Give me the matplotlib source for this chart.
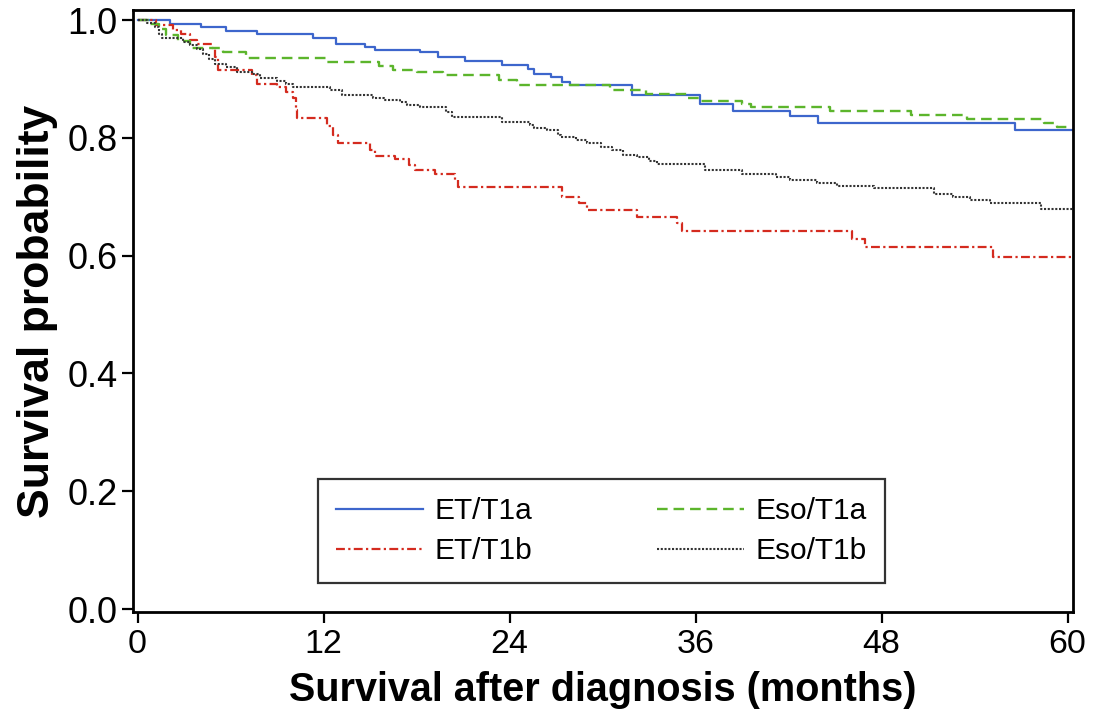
import matplotlib
matplotlib.use("Agg")
import matplotlib.pyplot as plt
from matplotlib import font_manager

# ---------------- data ----------------
et_t1a_time = [0, 2.1, 4.1, 5.7, 7.7, 11.3, 12.8, 14.7, 15.3, 18.2, 19.4, 21.1, 23.5,
               25.2, 25.6, 26.7, 27.4, 27.9, 31.9, 36.3, 38.4, 42.1, 43.9, 56.6, 60.3]
et_t1a_surv = [1.0, 0.993, 0.988, 0.982, 0.976, 0.969, 0.960, 0.955, 0.949, 0.945, 0.938,
               0.931, 0.924, 0.917, 0.909, 0.904, 0.895, 0.890, 0.873, 0.857, 0.846, 0.837,
               0.826, 0.814, 0.814]

eso_t1a_time = [0, 0.8, 1.4, 1.8, 2.6, 3.4, 5.5, 7.0, 12.2, 15.6, 16.5, 18.0, 19.7, 23.3,
                24.5, 30.5, 32.8, 35.5, 36.3, 39.0, 39.6, 44.7, 49.9, 53.5, 58.5, 59.3, 60.3]
eso_t1a_surv = [1.0, 0.993, 0.985, 0.975, 0.965, 0.953, 0.946, 0.935, 0.929, 0.922, 0.915,
                0.911, 0.906, 0.899, 0.890, 0.882, 0.874, 0.867, 0.862, 0.857, 0.852, 0.846,
                0.839, 0.832, 0.826, 0.819, 0.819]

et_t1b_time = [0, 1.2, 2.3, 2.8, 3.4, 3.8, 4.8, 5.0, 5.2, 7.4, 7.7, 9.0, 9.6, 10.0, 10.2,
               10.3, 12.2, 12.6, 12.9, 15.0, 15.3, 16.6, 17.5, 17.9, 19.2, 20.5, 20.7, 27.4,
               28.5, 29.0, 32.2, 34.8, 35.1, 46.1, 46.9, 55.2, 60.3]
et_t1b_surv = [1.0, 0.992, 0.983, 0.977, 0.966, 0.960, 0.952, 0.938, 0.915, 0.907, 0.892,
               0.886, 0.878, 0.867, 0.847, 0.833, 0.820, 0.805, 0.791, 0.779, 0.770, 0.764,
               0.754, 0.745, 0.738, 0.728, 0.717, 0.700, 0.689, 0.677, 0.666, 0.655, 0.642,
               0.629, 0.615, 0.597, 0.597]

eso_t1b_time = [0, 0.6, 1.1, 1.4, 1.6, 2.9, 3.4, 3.8, 4.2, 4.6, 5.0, 5.7, 6.4, 7.4, 7.9,
                9.0, 9.6, 10.0, 12.4, 13.2, 15.2, 15.9, 16.9, 17.4, 18.2, 19.9, 20.3, 23.5,
                25.3, 25.6, 26.4, 27.1, 27.3, 28.3, 29.0, 29.9, 30.6, 31.3, 32.2, 33.0, 33.5,
                36.6, 39.0, 41.2, 42.1, 43.8, 45.1, 47.5, 51.4, 52.6, 53.7, 55.0, 58.3, 60.3]
eso_t1b_surv = [1.0, 0.995, 0.989, 0.977, 0.969, 0.963, 0.958, 0.950, 0.943, 0.934, 0.926,
                0.921, 0.912, 0.909, 0.901, 0.897, 0.891, 0.887, 0.881, 0.873, 0.867, 0.864,
                0.861, 0.856, 0.852, 0.844, 0.835, 0.827, 0.822, 0.816, 0.813, 0.805, 0.801,
                0.796, 0.791, 0.784, 0.779, 0.771, 0.767, 0.760, 0.756, 0.745, 0.739, 0.734,
                0.728, 0.723, 0.718, 0.714, 0.705, 0.700, 0.694, 0.689, 0.680, 0.680]

x_ticks = [0, 12, 24, 36, 48, 60]
y_ticks = [0.0, 0.2, 0.4, 0.6, 0.8, 1.0]
y_tick_labels = ["0.0", "0.2", "0.4", "0.6", "0.8", "1.0"]
x_label = "Survival after diagnosis (months)"
y_label = "Survival probability"

# ---------------- fonts ----------------
names = {f.name for f in font_manager.fontManager.ttflist}
base = "Liberation Sans" if "Liberation Sans" in names else "DejaVu Sans"
plt.rcParams["font.family"] = [base, "DejaVu Sans"]

# ---------------- figure ----------------
fig = plt.figure(figsize=(10.97, 7.22), dpi=100)
ax = fig.add_axes([0.1212, 0.1524, 0.8570, 0.8337])

ax.step(et_t1a_time, et_t1a_surv, where="post", color="#3d66cc", lw=1.6,
        linestyle="-", label="ET/T1a")
ax.step(et_t1b_time, et_t1b_surv, where="post", color="#d42b1f", lw=1.6,
        linestyle=(0, (4, 1.5, 1, 1.5)), label="ET/T1b")
ax.step(eso_t1a_time, eso_t1a_surv, where="post", color="#5cb52c", lw=1.7,
        linestyle=(0, (4.5, 2.5)), label="Eso/T1a")
ax.step(eso_t1b_time, eso_t1b_surv, where="post", color="#333333", lw=1.5,
        linestyle=(0, (1, 0.8)), label="Eso/T1b")

ax.set_xlim(-0.3, 60.35)
ax.set_ylim(-0.005, 1.017)
ax.set_xticks(x_ticks)
ax.set_xticklabels([str(t) for t in x_ticks], fontsize=24.5)
ax.set_yticks(y_ticks)
ax.set_yticklabels(y_tick_labels, fontsize=26)
ax.tick_params(direction="out", length=8, width=1.6, colors="black", pad=4)
ax.tick_params(axis="y", pad=3)

for s in ax.spines.values():
    s.set_linewidth(2.0)
    s.set_color("black")

ax.set_xlabel(x_label, fontsize=28.5, fontweight="bold", labelpad=8)
ax.set_ylabel(y_label, fontsize=32, fontweight="bold", labelpad=7)

leg = ax.legend(loc="lower left", bbox_to_anchor=(0.197, 0.048, 0.603, 0.176),
                mode="expand", ncol=2, fontsize=21.5, handlelength=2.9,
                frameon=True, fancybox=False, edgecolor="black", borderaxespad=0,
                borderpad=0.6, labelspacing=0.4, handletextpad=0.4)
leg.get_frame().set_linewidth(1.6)

fig.savefig("out.png", dpi=100, facecolor="white")
